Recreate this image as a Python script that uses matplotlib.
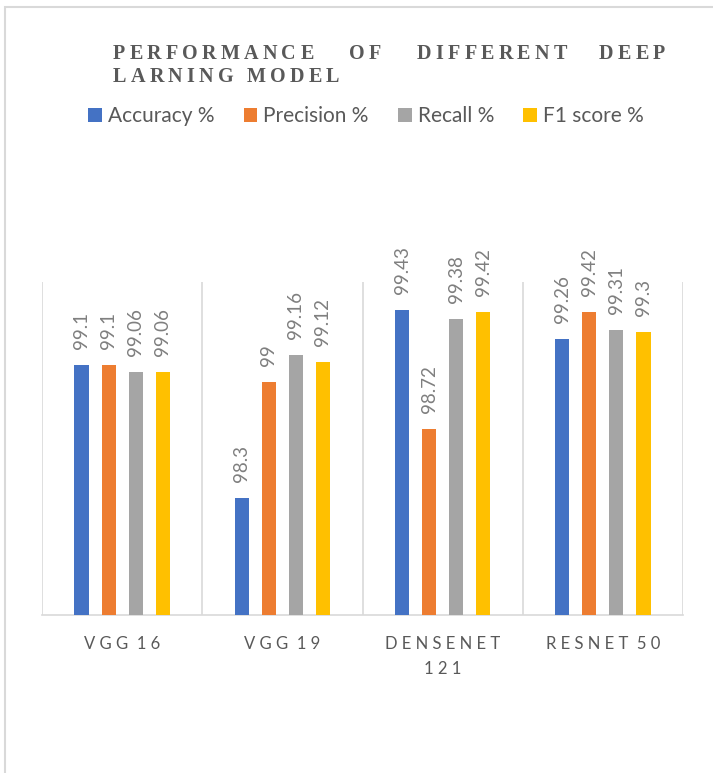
import numpy as np
import matplotlib.pyplot as plt
from matplotlib.patches import Rectangle

# model scores (%)
models = ['VGG 16', 'VGG 19', 'DENSENET 121', 'RESNET 50']
tick_labels = ['V G G  1 6', 'V G G  1 9', 'D E N S E N E T\n1 2 1', 'R E S N E T  5 0']
accuracy = [99.1, 98.3, 99.43, 99.26]
precision = [99.1, 99, 98.72, 99.42]
recall = [99.06, 99.16, 99.38, 99.31]
f1 = [99.06, 99.12, 99.42, 99.3]

series_names = ['Accuracy %', 'Precision %', 'Recall %', 'F1 score %']
colors = ['#4472C4', '#ED7D31', '#A5A5A5', '#FFC000']

W, H = 713, 773
fig = plt.figure(figsize=(W / 100, H / 100), dpi=100)
ax = fig.add_axes([42 / W, 1 - 615 / H, (683 - 42) / W, (615 - 282) / H])

x = np.arange(len(models))
step = 0.169
width = 0.0875
for i, (vals, name, c) in enumerate(zip([accuracy, precision, recall, f1], series_names, colors)):
    pos = x + (i - 1.5) * step
    ax.bar(pos, vals, width=width, color=c, label=name, zorder=3)
    for px, v in zip(pos, vals):
        ax.annotate(f'{v:g}', (px, v), xytext=(0, 11.5), textcoords='offset points',
                    rotation=90, ha='center', va='bottom', fontsize=13.5,
                    family='Lato', color='#7f7f7f')

ax.set_ylim(97.6, 99.6)
ax.set_xlim(-0.5, len(models) - 0.5)

# separators between model groups
for b in np.arange(-0.5, len(models), 1.0):
    ax.axvline(b, color='#d9d9d9', lw=1.2, zorder=1)

for s in ['top', 'left', 'right']:
    ax.spines[s].set_visible(False)
ax.spines['bottom'].set_color('#d9d9d9')
ax.spines['bottom'].set_linewidth(1.2)
ax.set_yticks([])
ax.set_xticks(x)
ax.set_xticklabels(tick_labels, fontsize=12, family='Lato', color='#595959', linespacing=1.7)
ax.tick_params(axis='x', length=0, pad=15)

# title: letter-spaced words, drawn one character at a time
renderer = fig.canvas.get_renderer()
tkw = dict(family='Liberation Serif', fontweight='bold', fontsize=14.5,
           color='#595959', va='center', ha='left')

def tracked(word, x0, y0, track=4.2):
    xp = x0
    for ch in word:
        if ch == ' ':
            xp += 9
            continue
        t = fig.text(xp / W, 1 - y0 / H, ch, **tkw)
        xp += t.get_window_extent(renderer).width + track
    return xp

tracked('PERFORMANCE', 113, 54)
tracked('OF', 349, 54)
tracked('DIFFERENT', 417, 54)
tracked('DEEP', 599, 54)
tracked('LARNING MODEL', 113, 77)

fig.legend(loc='center', bbox_to_anchor=(366 / W, 1 - 116 / H), ncol=4, frameon=False,
           prop={'family': 'Lato', 'size': 15}, labelcolor='#595959',
           handlelength=0.65, handleheight=0.65, handletextpad=0.3, columnspacing=1.4)

# chart border
fig.patches.append(Rectangle((5 / W, -0.1), 1.2, 1.1 - 7 / H, transform=fig.transFigure,
                             fill=False, edgecolor='#d9d9d9', lw=1.5))

fig.savefig('out.png', dpi=100)
